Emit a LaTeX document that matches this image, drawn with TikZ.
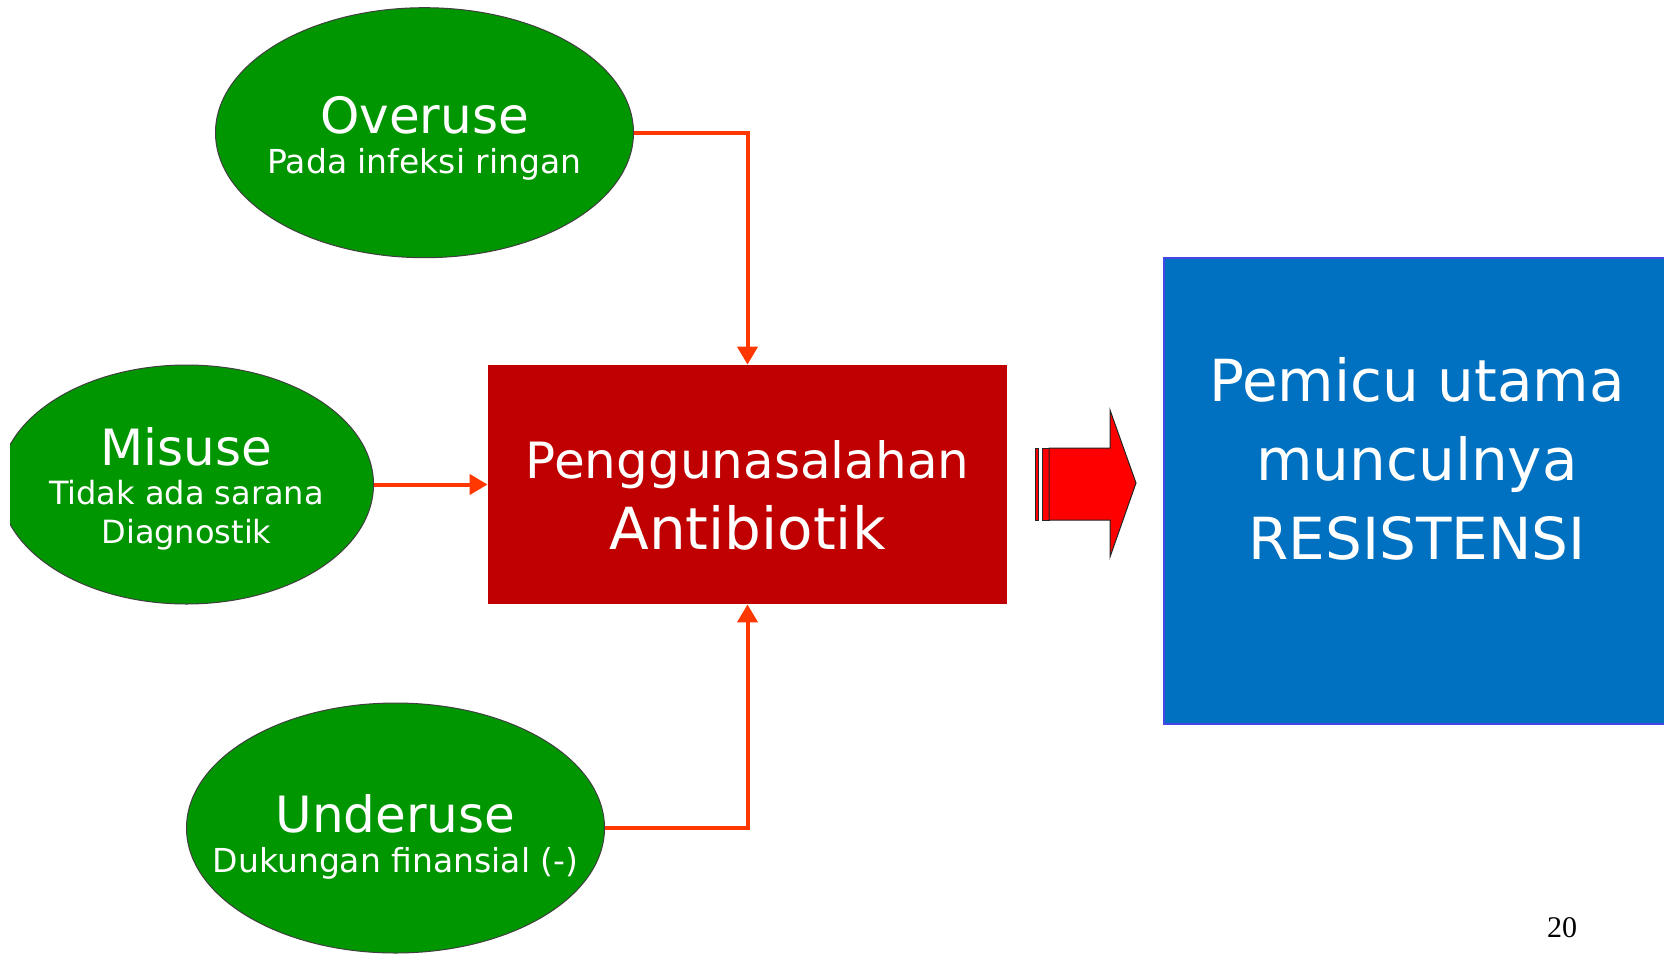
\documentclass[tikz,border=0pt]{standalone}
\usepackage{fontspec}
\setmainfont{DejaVu Sans}
\newfontfamily\halfont{Liberation Serif}
\usetikzlibrary{shapes.geometric,arrows.meta}

\definecolor{hijau}{RGB}{0,150,0}
\definecolor{merahtua}{RGB}{192,0,0}
\definecolor{biru}{RGB}{0,112,192}
\definecolor{jingga}{RGB}{255,55,0}

\newcommand{\judul}[2][24pt]{{\fontsize{25}{20}\selectfont\rule{0pt}{#1}#2}}

\tikzset{
    elips/.style={ellipse, draw=black!75, line width=0.5pt, fill=hijau, text=white, align=center,
        inner xsep=-24pt, inner ysep=0pt, minimum width=209pt, minimum height=125pt},
    panah/.style={draw=jingga, line width=2pt, -{Triangle[length=9pt,width=10pt]}},
    blok/.style={fill=red, draw=black!85, line width=0.5pt},
}

\begin{document}
\begin{tikzpicture}[x=0.5pt, y=-0.5pt]
        \clip (0,0) rectangle (1664,959);

        \node[elips, font=\fontsize{16.5}{20}\selectfont] (over) at (424.5,132.7) {\judul{Overuse}\\Pada infeksi ringan};
        \begin{scope}
                \clip (10,0) rectangle (1664,959);
                \node[elips, minimum width=187pt, minimum height=119.5pt, font=\fontsize{16}{19.5}\selectfont] (mis) at (186.5,484.5) {\judul[23pt]{Misuse}\\Tidak ada sarana\\Diagnostik};
        \end{scope}
        \node[elips, font=\fontsize{16.5}{20}\selectfont] (under) at (395.5,828) {\judul[27.5pt]{Underuse}\\Dukungan finansial (-)};

        \node[fill=merahtua, minimum width=259.5pt, minimum height=119.5pt, inner sep=0pt] (salah) at (747.5,484.5) {};
        \node[text=white, align=center, font=\fontsize{29}{35.5}\selectfont] (salahteks) at (747.5,495.5) {{\fontsize{25}{35.5}\selectfont Penggunasalahan}\\Antibiotik};

        \node[fill=biru, draw={rgb,255:red,70;green,70;blue,230}, line width=0.6pt, minimum width=253pt, minimum height=233pt, inner sep=0pt] (resist) at (1417,491) {};
        \node[text=white, align=center, font=\fontsize{29}{39.5}\selectfont] (resistteks) at (1417,459) {Pemicu utama\\munculnya\\RESISTENSI};

        \draw[panah] (over.east) -| (salah.north);
        \draw[panah] (mis.east) -- (salah.west);
        \draw[panah] (under.east) -| (salah.south);

        \draw[blok] (1035,448) rectangle (1038,520);
        \draw[blok] (1042,448) rectangle (1049,520);
        \draw[blok] (1049,448) -- (1110,448) -- (1110,410) -- (1136,483) -- (1110,557) -- (1110,520) -- (1049,520) -- cycle;

        \node[font=\halfont\fontsize{15}{18}\selectfont] (hal) at (1562,928) {20};
    \end{tikzpicture}
\end{document}
